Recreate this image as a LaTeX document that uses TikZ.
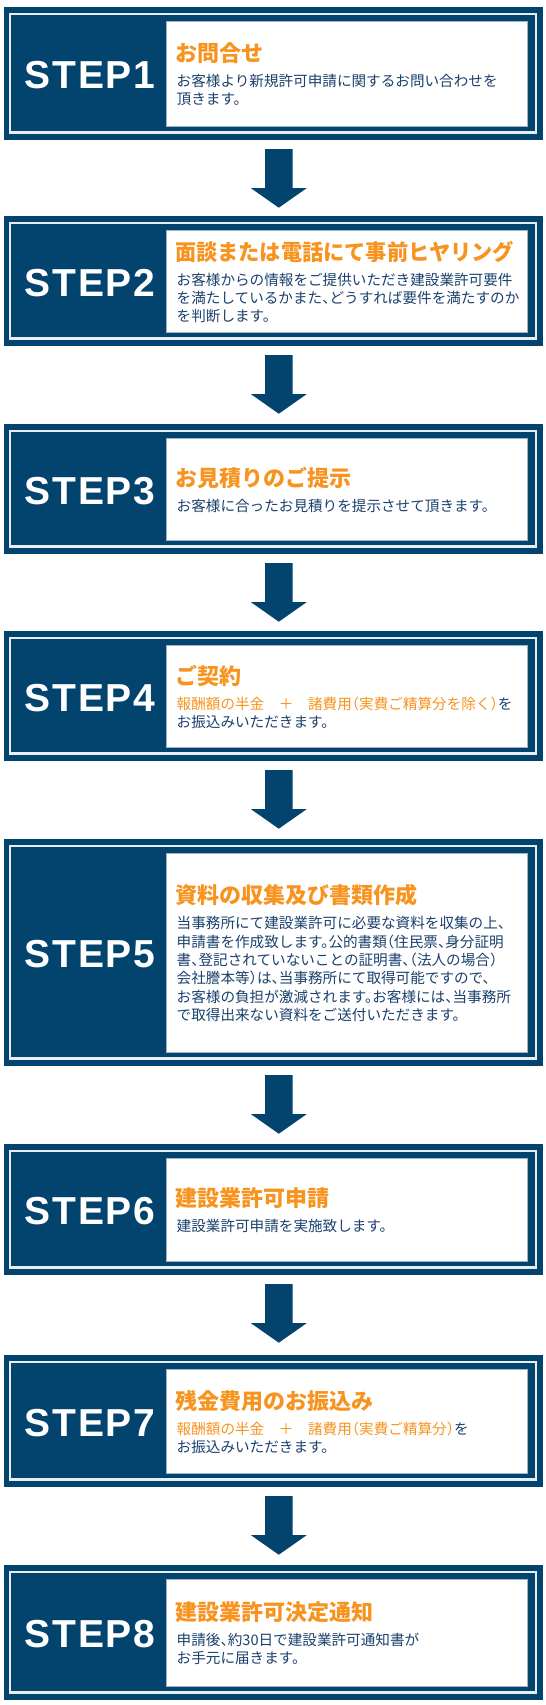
\documentclass[tikz,border=0pt]{standalone}
\usepackage{fontspec}
\setmainfont{Liberation Sans}
\newfontfamily\jp{Noto Sans CJK JP}
\newfontfamily\jpbody{Noto Sans CJK JP}[RawFeature=+halt]
\newfontfamily\stepfont{Liberation Sans}[LetterSpace=5]
\definecolor{navy}{HTML}{03446F}
\definecolor{lightline}{HTML}{E8EEF4}
\definecolor{paneledge}{HTML}{9DB3C8}
\definecolor{ttlorange}{HTML}{F7931E}
\definecolor{bodyblue}{HTML}{1B416D}
\tikzset{
  outerbox/.style={fill=navy, draw=none, inner sep=0, minimum width=539pt},
  lightframe/.style={draw=lightline, line width=2.6pt},
  panel/.style={fill=white, draw=paneledge, line width=0.6pt},
  steplabel/.style={text=white, font=\stepfont\bfseries\fontsize{39}{39}\selectfont, anchor=base, inner sep=0},
  ttl/.style={text=ttlorange, font=\jp\bfseries\fontsize{22}{22}\selectfont, anchor=base west, inner sep=0},
  bdy/.style={text=bodyblue, font=\jpbody\fontsize{14.6}{14.6}\selectfont, anchor=base west, inner sep=0},
  downarrow/.pic={\fill[navy] (-13.8,0) -- (13.8,0) -- (13.8,39) -- (27.8,39) -- (0,58.5) -- (-27.8,39) -- (-13.8,39) -- cycle;}
}
\newcommand\stepframe[3]{%
  \node[outerbox, minimum height={#2-#1}] (box#3) at (273,{(#1+#2)/2}) {};
  \draw[lightframe] (9.8,#1+7) rectangle (535.8,#2-7.5);
  \filldraw[panel] (166,#1+14) rectangle (527.5,#2-14);
  \node[steplabel] (step#3) at (90,{(#1+#2)/2+15}) {STEP#3};
}
\newcommand\steparrow[1]{%
  \coordinate (arr#1) at ([xshift=5.8pt,yshift=-9pt]box#1.south);
  \pic at (arr#1) {downarrow};
}
\begin{document}
\begin{tikzpicture}[x=1pt,y=-1pt]
\useasboundingbox (0,0) rectangle (546,1705);
\fill[white] (0,0) rectangle (546,1705);

% STEP1
\stepframe{7}{140}{1}
\node[ttl] (t1) at (175,61.6) {お問合せ};
\node[bdy] (b1a) at (176.5,86.6) {お客様より新規許可申請に関するお問い合わせを};
\node[bdy] (b1b) at (176.5,104.6) {頂きます。};
\steparrow{1}

% STEP2
\stepframe{216}{346}{2}
\node[ttl] (t2) at (175,260.2) {\scalebox{0.963}[1]{面談または電話にて事前ヒヤリング}};
\node[bdy] (b2a) at (176.5,285.2) {お客様からの情報をご提供いただき建設業許可要件};
\node[bdy] (b2b) at (176.5,303.2) {を満たしているかまた、どうすれば要件を満たすのか};
\node[bdy] (b2c) at (176.5,321.2) {を判断します。};
\steparrow{2}

% STEP3
\stepframe{424}{554}{3}
\node[ttl] (t3) at (175,486.2) {お見積りのご提示};
\node[bdy] (b3a) at (176.5,511.2) {お客様に合ったお見積りを提示させて頂きます。};
\steparrow{3}

% STEP4
\stepframe{631}{761}{4}
\node[ttl] (t4) at (175,684.2) {ご契約};
\node[bdy] (b4a) at (176.5,709.2) {\textcolor{ttlorange}{報酬額の半金　＋　諸費用（実費ご精算分を除く）}を};
\node[bdy] (b4b) at (176.5,727.2) {お振込みいただきます。};
\steparrow{4}

% STEP5
\stepframe{839}{1066}{5}
\node[ttl] (t5) at (175,903.9) {資料の収集及び書類作成};
\node[bdy] (b5a) at (176.5,928.9) {当事務所にて建設業許可に必要な資料を収集の上、};
\node[bdy] (b5b) at (176.5,947.2) {申請書を作成致します。公的書類（住民票、身分証明};
\node[bdy] (b5c) at (176.5,965.5) {書、登記されていないことの証明書、（法人の場合）};
\node[bdy] (b5d) at (176.5,983.8) {会社謄本等）は、当事務所にて取得可能ですので、};
\node[bdy] (b5e) at (176.5,1002.1) {お客様の負担が激減されます。お客様には、当事務所};
\node[bdy] (b5f) at (176.5,1020.4) {で取得出来ない資料をご送付いただきます。};
\steparrow{5}

% STEP6
\stepframe{1144}{1275}{6}
\node[ttl] (t6) at (175,1206.7) {建設業許可申請};
\node[bdy] (b6a) at (176.5,1231.7) {建設業許可申請を実施致します。};
\steparrow{6}

% STEP7
\stepframe{1355}{1487}{7}
\node[ttl] (t7) at (175,1409.2) {残金費用のお振込み};
\node[bdy] (b7a) at (176.5,1434.2) {\textcolor{ttlorange}{報酬額の半金　＋　諸費用（実費ご精算分）}を};
\node[bdy] (b7b) at (176.5,1452.2) {お振込みいただきます。};
\steparrow{7}

% STEP8
\stepframe{1565}{1700}{8}
\node[ttl] (t8) at (175,1620.7) {建設業許可決定通知};
\node[bdy] (b8a) at (176.5,1645.7) {申請後、約30日で建設業許可通知書が};
\node[bdy] (b8b) at (176.5,1663.7) {お手元に届きます。};
\end{tikzpicture}
\end{document}
